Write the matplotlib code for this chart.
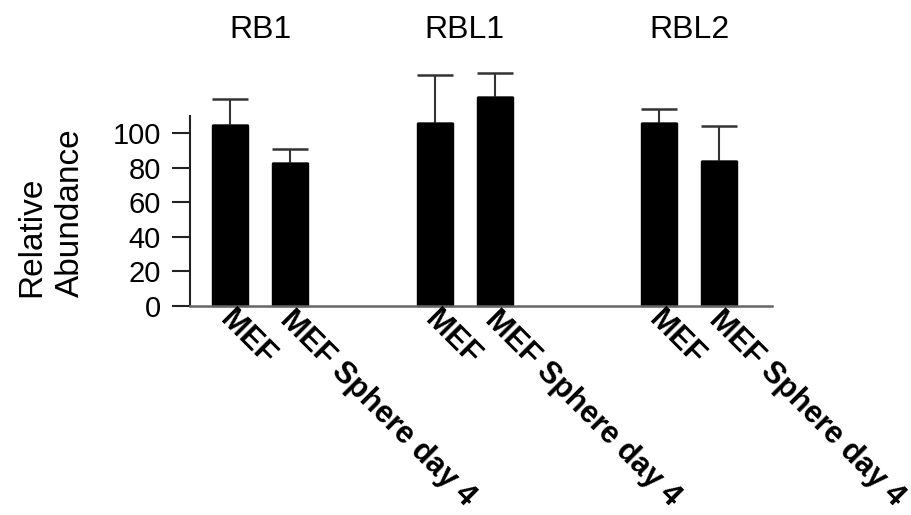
import numpy as np
import matplotlib
matplotlib.use('Agg')
import matplotlib.pyplot as plt
from matplotlib import transforms

plt.rcParams['font.family'] = ['Liberation Sans', 'DejaVu Sans']

genes = ['RB1', 'RBL1', 'RBL2']
conditions = ['MEF', 'MEF Sphere day 4']
means = [105, 83, 106, 121, 106, 84]
errs = [15, 8, 28, 14, 8, 20]

# layout (data units, one unit ~ spacing between bars in a group)
group_starts = [0, 3.41, 7.15]
pos = []
for g in group_starts:
	pos += [g, g + 1.0]
pos = np.array(pos)
labels = conditions * len(genes)

fig = plt.figure(figsize=(9.12, 5.15), dpi=100)
ax = fig.add_axes([190/912, 1-305.7/515, (772-190)/912, (305.7-116)/515])

ax.bar(pos, means, width=0.6, color='black', edgecolor='black', zorder=2, clip_on=False)
ax.errorbar(pos, means, yerr=[np.zeros(len(errs)), errs], fmt='none',
	ecolor='#333333', elinewidth=1.5, capsize=13, capthick=1.8, clip_on=False, zorder=1)

ax.set_xlim(-0.667, 9.033)
ax.set_ylim(0, 110)
ax.set_yticks([0, 20, 40, 60, 80, 100])
ax.tick_params(axis='y', length=13, width=1.5, pad=8, labelsize=21, color='#222222')
ax.set_xticks([])
for s in ['top', 'right']:
	ax.spines[s].set_visible(False)
ax.spines['left'].set_linewidth(1.5)
ax.spines['left'].set_color('#222222')
ax.spines['bottom'].set_linewidth(1.8)
ax.spines['bottom'].set_color('#666666')

tr = transforms.offset_copy(ax.transData, fig=fig, y=-10, units='dots')
for x, lab in zip(pos, labels):
	ax.text(x - 0.09, 0, lab, transform=tr, rotation=-45, rotation_mode='anchor',
		ha='left', va='center', fontsize=22, fontweight='bold')

ttr = transforms.blended_transform_factory(ax.transData, fig.transFigure)
for g, name in zip(group_starts, genes):
	ax.text(g + 0.5, 1 - 30/515, name, transform=ttr, ha='center', va='center', fontsize=23)

fig.text(51/912, 1 - 213/515, 'Relative\nAbundance', rotation=90, ha='center', va='center',
	multialignment='left', fontsize=24, linespacing=1.3)

plt.savefig('out.png', dpi=100)
plt.close()
